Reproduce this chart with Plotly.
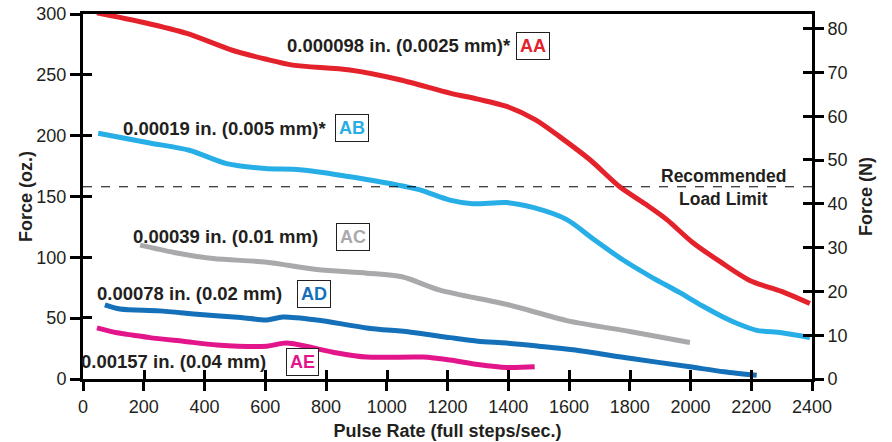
import plotly.graph_objects as go

# Pulse rate (full steps/sec) and force (oz.)
aa_x = [46, 200, 342, 494, 600, 691, 879, 1043, 1208, 1300, 1395, 1490, 1570, 1670, 1767, 1850, 1922, 2008, 2100, 2195, 2300, 2393]
aa_y = [301, 293, 284, 270, 263, 258, 254, 246, 235, 230, 224, 213, 199, 180, 158, 144, 131, 112, 96, 81, 72, 62]

ab_x = [50, 220, 350, 473, 600, 714, 934, 1100, 1208, 1283, 1395, 1481, 1593, 1680, 1777, 1870, 1965, 2040, 2107, 2160, 2218, 2300, 2393]
ab_y = [202, 194, 188, 177, 173, 172, 164, 156, 147, 144, 145, 141, 131, 115, 98, 84, 71, 60, 51, 45, 40, 38, 34]

ac_x = [188, 300, 428, 605, 770, 934, 1050, 1175, 1400, 1593, 1800, 1998]
ac_y = [110, 104, 99, 96, 90, 87, 84, 73, 61, 48, 39, 30]

ad_x = [72, 122, 250, 385, 520, 605, 658, 770, 934, 1080, 1208, 1300, 1395, 1500, 1613, 1800, 1998, 2110, 2218]
ad_y = [61, 57.5, 56, 53, 50.5, 48.5, 51, 48.5, 42, 38.5, 34, 31, 29.5, 27, 24, 17, 10, 6, 3]

ae_x = [46, 112, 165, 220, 330, 441, 605, 671, 823, 934, 1119, 1208, 1300, 1395, 1487]
ae_y = [42, 38, 36, 34, 31, 28, 27, 29.5, 22, 18, 18, 15.6, 12, 9.5, 10]

series_names = ["AA", "AB", "AC", "AD", "AE"]
series_desc = ["0.000098 in. (0.0025 mm)*", "0.00019 in. (0.005 mm)*",
               "0.00039 in. (0.01 mm)", "0.00078 in. (0.02 mm)", "0.00157 in. (0.04 mm)"]
series_colors = ["#e3222c", "#27aee6", "#a9a9ac", "#1470b9", "#e3158b"]
# label anchor positions in data units: (text right end x, box center x, y)
label_text_x = [1414, 806, 780, 661, 609]
label_box_x = [1480, 887, 890, 760, 722]
label_y = [274, 206, 117, 70, 14]

load_limit = 158
x_ticks = list(range(0, 2401, 200))
left_ticks = list(range(0, 301, 50))
right_ticks = list(range(0, 81, 10))
OZ_PER_N = 3.597

FONT = "Liberation Sans, Arial, Helvetica, sans-serif"
INK = "#231f20"

fig = go.Figure()
xs = [aa_x, ab_x, ac_x, ad_x, ae_x]
ys = [aa_y, ab_y, ac_y, ad_y, ae_y]
for name, x, y, c in zip(series_names, xs, ys, series_colors):
    fig.add_trace(go.Scatter(x=x, y=y, mode="lines", name=name,
                             line=dict(color=c, width=5, shape="spline", smoothing=0.8),
                             showlegend=False))

# invisible trace on right axis so it is drawn
fig.add_trace(go.Scatter(x=[x_ticks[0]], y=[right_ticks[0]], yaxis="y2", mode="markers",
                         marker=dict(opacity=0), showlegend=False, hoverinfo="skip"))

fig.add_shape(type="line", xref="x", yref="y", x0=x_ticks[0], x1=x_ticks[-1],
              y0=load_limit, y1=load_limit, line=dict(color="black", width=1, dash="dash"))

for desc, nm, c, tx, bx, ly in zip(series_desc, series_names, series_colors,
                                   label_text_x, label_box_x, label_y):
    fig.add_annotation(x=tx, y=ly, xref="x", yref="y", text="<b>%s</b>" % desc,
                       showarrow=False, xanchor="right", yanchor="middle",
                       font=dict(family=FONT, size=18.5, color=INK))
    fig.add_annotation(x=bx, y=ly, xref="x", yref="y", text="<b>%s</b>" % nm,
                       showarrow=False, xanchor="center", yanchor="middle",
                       font=dict(family=FONT, size=18, color=c),
                       bordercolor=INK, borderwidth=1, borderpad=3,
                       bgcolor="white")

fig.add_annotation(x=2107, y=load_limit, xref="x", yref="y", text="<b>Recommended</b>",
                   showarrow=False, xanchor="center", yanchor="bottom", yshift=-1,
                   font=dict(family=FONT, size=17.5, color=INK))
fig.add_annotation(x=2107, y=load_limit, xref="x", yref="y", text="<b>Load Limit</b>",
                   showarrow=False, xanchor="center", yanchor="top", yshift=0,
                   font=dict(family=FONT, size=17.5, color=INK))

tickfont = dict(family=FONT, size=18, color=INK)
titlefont = dict(family=FONT, size=18, color=INK)

fig.update_layout(
    width=892, height=442,
    margin=dict(l=83, r=80, t=14, b=63, autoexpand=False),
    paper_bgcolor="white", plot_bgcolor="white",
    xaxis=dict(range=[x_ticks[0], x_ticks[-1]], tickvals=x_ticks, ticks="outside",
               ticklen=9, tickwidth=2.5, tickcolor="black", automargin=False,
               showline=True, linewidth=3, linecolor="black", mirror=True,
               showgrid=False, zeroline=False, tickfont=tickfont, ticklabeloverflow="allow",
               minor=dict(ticks="inside", tickmode="array",
                          tickvals=[v + 1 for v in x_ticks[1:]],
                          ticklen=9, tickwidth=2.5, tickcolor="black", showgrid=False),
               title=dict(text="<b>Pulse Rate (full steps/sec.)</b>", font=titlefont, standoff=9)),
    yaxis=dict(range=[0, 300], tickvals=left_ticks, ticks="outside",
               ticklen=10, tickwidth=2.5, tickcolor="black", automargin=False,
               showline=True, linewidth=3, linecolor="black",
               showgrid=False, zeroline=False, tickfont=tickfont, ticklabeloverflow="allow",
               minor=dict(ticks="inside", tickmode="array",
                          tickvals=[v + 0.2 for v in left_ticks[1:]],
                          ticklen=9, tickwidth=2.5, tickcolor="black", showgrid=False),
               title=dict(text="<b>Force (oz.)</b>", font=titlefont, standoff=0)),
    yaxis2=dict(range=[0, 300 / OZ_PER_N], tickvals=right_ticks, ticks="outside",
                overlaying="y", side="right", anchor="x", automargin=False,
                ticklen=9, tickwidth=2.5, tickcolor="black",
                showline=True, linewidth=3, linecolor="black",
                showgrid=False, zeroline=False, tickfont=tickfont, ticklabeloverflow="allow",
                minor=dict(ticks="inside", tickmode="array",
                           tickvals=[v + 0.05 for v in right_ticks[1:]],
                           ticklen=9, tickwidth=2.5, tickcolor="black", showgrid=False),
                title=dict(text="<b>Force (N)</b>", font=titlefont, standoff=13)),
)

# remove the page's default body margin so the 892x442 figure fills the window
fig.write_html("out.html", config={"displayModeBar": False},
               post_script="document.body.style.margin='0';document.body.style.overflow='hidden';")
